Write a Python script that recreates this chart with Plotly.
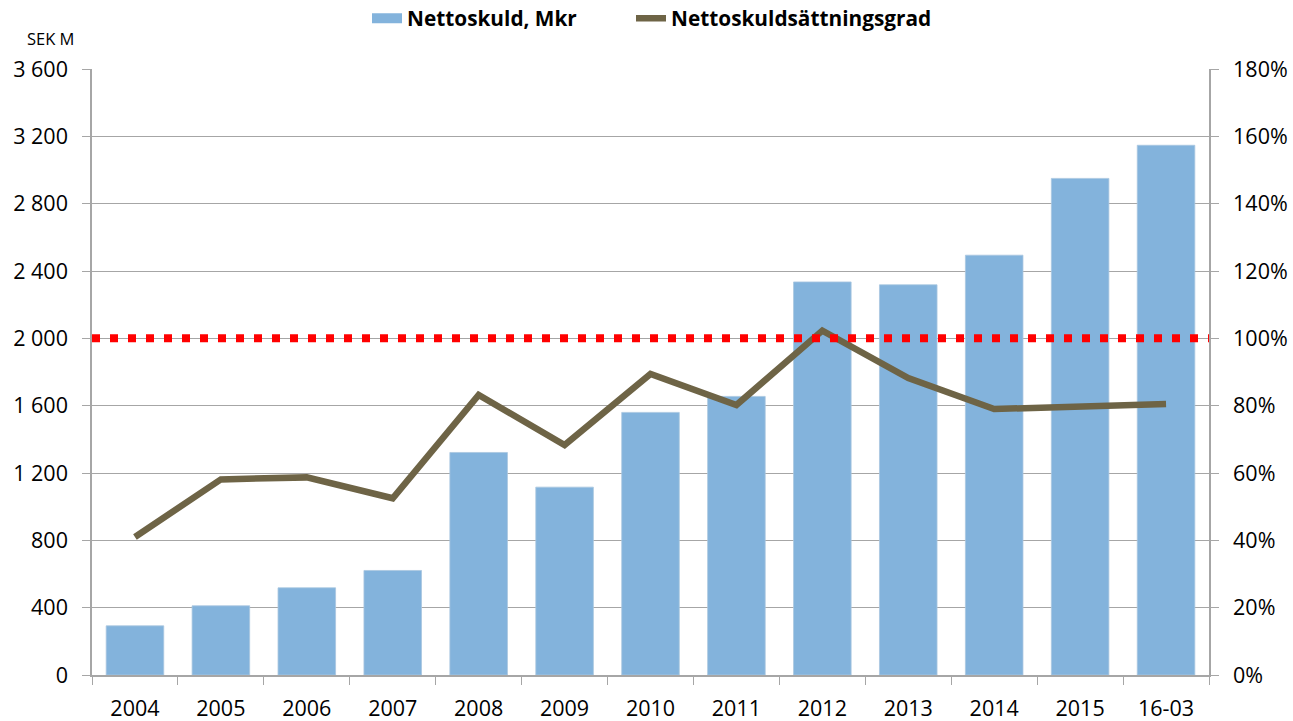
import plotly.graph_objects as go

categories = ["2004", "2005", "2006", "2007", "2008", "2009", "2010", "2011",
              "2012", "2013", "2014", "2015", "16-03"]
net_debt = [292, 411, 518, 621, 1322, 1116, 1560, 1655, 2335, 2318, 2494, 2950, 3147]
gearing = [0.41, 0.581, 0.587, 0.525, 0.832, 0.683, 0.894, 0.802, 1.023, 0.882, 0.79, 0.796, 0.805]
threshold = 2000
left_ticks = [0, 400, 800, 1200, 1600, 2000, 2400, 2800, 3200, 3600]
left_ticktext = ["0", "400", "800", "1 200", "1 600", "2 000", "2 400", "2 800", "3 200", "3 600"]
right_ticks = [0, 0.2, 0.4, 0.6, 0.8, 1.0, 1.2, 1.4, 1.6, 1.8]

FONT = "Open Sans, Noto Sans, sans-serif"
GRID = "#a6a6a6"
BAR_COLOR = "#83B3DC"
LINE_COLOR = "#6E6446"

fig = go.Figure()
fig.add_trace(go.Bar(
    x=categories, y=net_debt, name="Nettoskuld, Mkr", showlegend=False,
    marker=dict(color=BAR_COLOR, line=dict(color="#a9c6e0", width=0.8)),
))
# legend-only entry mimicking the wide rectangular bar key
fig.add_trace(go.Scatter(
    x=[None], y=[None], name="Nettoskuld, Mkr", mode="lines",
    line=dict(color=BAR_COLOR, width=14), legend="legend",
))
fig.add_trace(go.Scatter(
    x=categories, y=gearing, name="Nettoskuldsättningsgrad", yaxis="y2",
    mode="lines", line=dict(color=LINE_COLOR, width=6.5), legend="legend2",
))

fig.add_shape(type="line", xref="paper", x0=0, x1=1, yref="y", y0=threshold, y1=threshold,
              line=dict(color="#ff0000", width=8, dash="8px,10px"), layer="above")

legend_font = dict(family=FONT, size=20.8, color="black", weight="bold")
fig.update_layout(
    width=1293, height=721,
    margin=dict(l=92, r=84, t=69, b=46, autoexpand=False),
    plot_bgcolor="white", paper_bgcolor="white",
    bargap=0.33,
    showlegend=True,
    legend=dict(orientation="h", x=(372 - 5 - 92) / 1117, xanchor="left", y=1.083, yanchor="middle",
                font=legend_font, itemwidth=30),
    legend2=dict(orientation="h", x=(636 - 5 - 92) / 1117, xanchor="left", y=1.083, yanchor="middle",
                 font=legend_font, itemwidth=30),
    font=dict(family=FONT, size=21.5, color="black"),
    xaxis=dict(type="category", showline=True, linecolor=GRID, linewidth=1.5,
               ticks="outside", tickson="boundaries", ticklen=8, tickcolor=GRID,
               tickfont=dict(size=21.5), showgrid=False, range=[-0.5, 12.5],
               ticklabelstandoff=13, automargin=False),
    yaxis=dict(range=[0, 3600], tickvals=left_ticks, ticktext=left_ticktext,
               showgrid=True, gridcolor=GRID, gridwidth=1.2,
               showline=True, linecolor=GRID, linewidth=1.5,
               ticks="outside", ticklen=8, tickcolor=GRID, zeroline=False,
               tickfont=dict(size=21.5), ticklabelstandoff=10, automargin=False),
    yaxis2=dict(range=[0, 1.8], tickvals=right_ticks, tickformat=".0%", overlaying="y",
                side="right", showgrid=False, showline=True, linecolor=GRID, linewidth=1.5,
                ticks="outside", ticklen=8, tickcolor=GRID, zeroline=False,
                tickfont=dict(size=21.5), ticklabelstandoff=10, automargin=False),
    annotations=[dict(text="SEK M", xref="paper", yref="paper", x=-0.06, y=1.051,
                      xanchor="left", yanchor="middle", showarrow=False,
                      font=dict(family=FONT, size=16.5, color="black"))],
)
fig.write_html("out.html", config={"displayModeBar": False},
               post_script="document.body.style.margin='0';document.body.style.overflow='hidden';")
